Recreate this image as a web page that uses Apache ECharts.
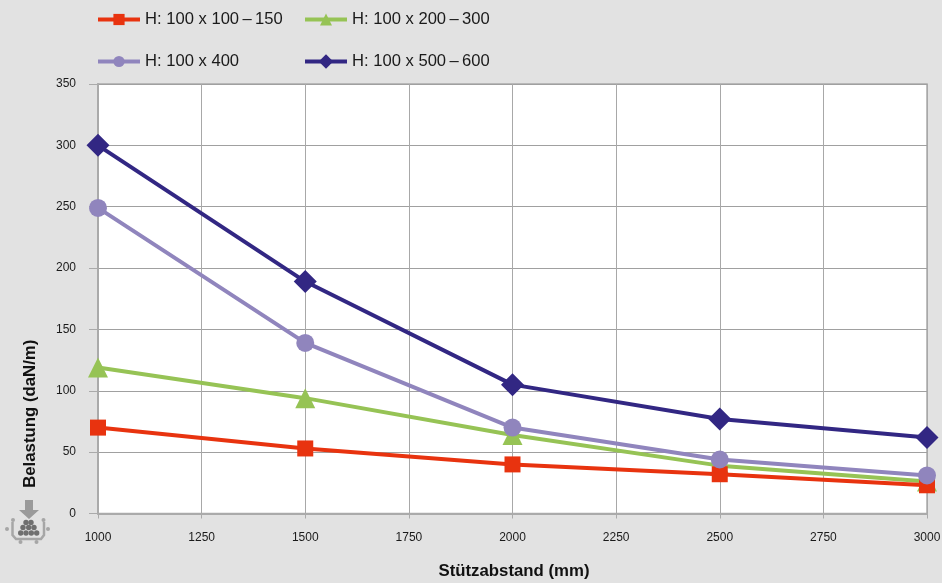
<!DOCTYPE html>
<html><head><meta charset="utf-8">
<style>html,body{margin:0;padding:0;background:#e2e2e2}#c{width:942px;height:583px}</style>
<script src="https://cdn.jsdelivr.net/npm/echarts@6/dist/echarts.min.js"></script></head>
<body><div id="c"></div>
<script>
const xValues=[1000,1500,2000,2500,3000];
const red=[70,53,40,32,23];
const green=[119,94,64,39,26];
const purple=[249,139,70,44,31];
const navy=[300,189,105,77,62];
const names=['H: 100 x 100\u2009\u2013\u2009150','H: 100 x 200\u2009\u2013\u2009300','H: 100 x 400','H: 100 x 500\u2009\u2013\u2009600'];
const colors=['#e8330f','#96c355','#9085bd','#322783'];
const symbols=['rect','triangle','circle','diamond'];
const sizes=[16,20,18,23];
const legendSizes=[14,15,14,18];
const zs=[3,2,4,5];
const values=[red,green,purple,navy];
const legendPos=[[96,11],[303,11],[96,53],[303,53]];
const chart=echarts.init(document.getElementById('c'),null,{renderer:'canvas'});
const font='"Liberation Sans", Arial, sans-serif';
const dots=[[26,522.5],[31,522.5],[23,527.5],[28.7,527.5],[34,527.5],[20.7,533],[26,533],[31.3,533],[36.7,533]];
const graphics=[
 {type:'polygon',shape:{points:[[25,500],[33,500],[33,510],[39,510],[29,519],[19,510],[25,510]]},style:{fill:'#9a9a9a'}},
 {type:'polyline',shape:{points:[[12.5,522],[12.5,535],[16,539],[41,539],[44,535],[44,522]]},style:{stroke:'#a6a6a6',lineWidth:2.5,fill:'none'}},
 ...[[13,520],[43.5,520],[7,529],[48,529],[20.5,542],[36.5,542]].map(p=>({type:'circle',shape:{cx:p[0],cy:p[1],r:2},style:{fill:'#a6a6a6'}})),
 ...dots.map(p=>({type:'circle',shape:{cx:p[0],cy:p[1],r:2.7},style:{fill:'#6f6f6f'}}))
];
chart.setOption({
 animation:false,
 backgroundColor:'#e2e2e2',
 textStyle:{fontFamily:font},
 legend:names.map((n,i)=>({
  data:[n],left:legendPos[i][0],top:legendPos[i][1],itemWidth:42,itemHeight:legendSizes[i],itemGap:0,padding:0,
  lineStyle:{width:4},
  textStyle:{fontSize:16.6,color:'#1a1a1a',fontFamily:font},selectedMode:false
 })),
 grid:{left:98,right:15,top:84,bottom:69.5,outerBoundsMode:'none',backgroundColor:'#fff',show:true,borderWidth:1.5,borderColor:'#aaaaaa'},
 xAxis:{type:'value',min:1000,max:3000,interval:250,
  name:'Stützabstand (mm)',nameLocation:'middle',nameGap:49.5,
  nameTextStyle:{fontSize:16.8,fontWeight:'bold',color:'#111',fontFamily:font,padding:[0,0,0,3]},
  axisLine:{show:true,lineStyle:{color:'#aaaaaa',width:2}},
  axisTick:{show:true,length:5,lineStyle:{color:'#aaaaaa',width:1}},
  axisLabel:{fontSize:12,color:'#1a1a1a',margin:18,fontFamily:font,showMinLabel:true,showMaxLabel:true,formatter:v=>String(v)},
  splitLine:{show:true,lineStyle:{color:'#a8a8a8',width:1}}},
 yAxis:{type:'value',min:0,max:350,interval:50,
  name:'Belastung (daN/m)',nameLocation:'middle',nameGap:59,nameRotate:90,
  nameTextStyle:{fontSize:16.8,fontWeight:'bold',color:'#111',fontFamily:font,padding:[0,230,0,0]},
  axisLine:{show:true,lineStyle:{color:'#aaaaaa',width:2}},
  axisTick:{show:true,length:9,lineStyle:{color:'#aaaaaa',width:1}},
  axisLabel:{fontSize:12,color:'#1a1a1a',margin:22,fontFamily:font},
  splitLine:{show:true,lineStyle:{color:'#a0a0a0',width:1}}},
 series:names.map((n,i)=>({
  name:n,type:'line',z:zs[i],data:xValues.map((x,k)=>[x,values[i][k]]),
  symbol:symbols[i],symbolSize:sizes[i],showSymbol:true,clip:false,
  lineStyle:{color:colors[i],width:4},itemStyle:{color:colors[i]},emphasis:{disabled:true}
 })),
 graphic:graphics
});
</script></body></html>
